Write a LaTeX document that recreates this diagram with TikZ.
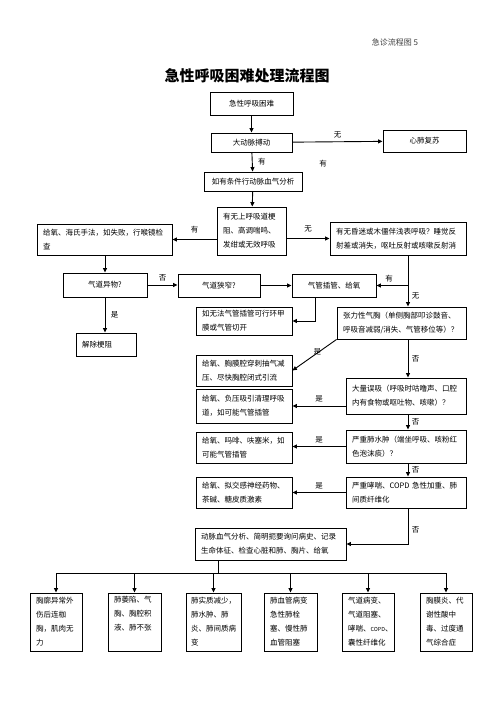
\documentclass[tikz,border=0pt]{standalone}
\usepackage{fontspec}
\setmainfont{Noto Sans CJK SC}
\usetikzlibrary{arrows.meta, calc}

\begin{document}
\begin{tikzpicture}[
  x=1pt, y=-1pt,
  font=\fontsize{7.5}{14}\selectfont,
  box/.style={draw, line width=0.9pt, inner xsep=6pt, inner ysep=2pt, align=left},
  cbox/.style={draw, line width=0.9pt, inner sep=0pt, align=center},
  lowbox/.style={draw, line width=0.9pt, inner xsep=6pt, inner ysep=2pt, align=left,
    text width=40pt, minimum height=58pt},
  arr/.style={-{Triangle[length=4.5pt, width=4pt]}, line width=0.9pt},
  lbl/.style={font=\fontsize{7.5}{9}\selectfont},
]
  \useasboundingbox (0,0) rectangle (496,702);

  \node[font=\fontsize{8}{10}\selectfont, text=black!75] (hdr) at (395,42) {急诊流程图 5};
  \node[font=\fontsize{15}{18}\selectfont\bfseries] (title) at (247,76) {急性呼吸困难处理流程图};

  \node[cbox, minimum width=83pt, minimum height=23pt] (start) at (251.5,103.5) {急性呼吸困难};
  \node[cbox, minimum width=81pt, minimum height=19pt] (pulse) at (251.5,142.5) {大动脉搏动};
  \node[cbox, minimum width=83pt, minimum height=22pt] (cpr) at (424.5,141) {心肺复苏};
  \node[cbox, minimum width=98pt, minimum height=19pt] (abg) at (253,181.5) {如有条件行动脉血气分析};
  \node[box, text width=57pt, minimum height=48pt] (upper) at (251.5,231)
    {有无上呼吸道梗\\阻、高调喘鸣、\\发绀或无效呼吸};
  \node[box, text width=123pt, minimum height=31pt] (heimlich) at (104.5,239.5)
    {给氧、海氏手法，如失败，行喉镜检\\查};
  \node[box, text width=124pt, minimum height=33pt] (coma) at (398,238.5)
    {有无昏迷或木僵伴浅表呼吸？睡觉反\\射差或消失，呕吐反射或咳嗽反射消};

  \node[cbox, minimum width=84pt, minimum height=24pt] (foreign) at (105,285) {气道异物?};
  \node[cbox, minimum width=82pt, minimum height=23pt] (narrow) at (219,285.5) {气道狭窄?};
  \node[cbox, minimum width=84pt, minimum height=23pt] (intub) at (334,285.5) {气管插管、给氧};
  \node[box, text width=48pt, minimum height=23pt] (relieve) at (106,344.5) {解除梗阻};

  \node[box, text width=84pt, minimum height=28pt] (crico) at (244,321)
    {如无法气管插管可行环甲\\膜或气管切开};
  \node[box, text width=117pt, minimum height=32pt] (tension) at (401.5,323)
    {张力性气胸（单侧胸部叩诊鼓音、\\呼吸音减弱/消失、气管移位等）？};
  \node[box, text width=84pt, minimum height=31pt] (decomp) at (244,370.5)
    {给氧、胸膜腔穿刺抽气减\\压、尽快胸腔闭式引流};
  \node[box, text width=108pt, minimum height=36pt] (aspir) at (406,396)
    {大量误吸（呼吸时咕噜声、口腔\\内有食物或呕吐物、咳嗽）？};
  \node[box, text width=84pt, minimum height=34pt] (suction) at (244,406)
    {给氧、负压吸引清理呼吸\\道，如可能气管插管};
  \node[box, text width=108pt, minimum height=33pt] (edema) at (406,446.5)
    {严重肺水肿（端坐呼吸、咳粉红\\色泡沫痰）？};
  \node[box, text width=84pt, minimum height=31pt] (morph) at (244,447.5)
    {给氧、吗啡、呋塞米，如\\可能气管插管};
  \node[box, text width=108pt, minimum height=31pt] (asthma) at (406,492.5)
    {严重哮喘、COPD 急性加重、肺\\间质纤维化};
  \node[box, text width=84pt, minimum height=31pt] (bronch) at (244,492.5)
    {给氧、拟交感神经药物、\\茶碱、糖皮质激素};
  \node[box, text width=139pt, minimum height=32pt] (workup) at (270.5,544)
    {动脉血气分析、简明扼要询问病史、记录\\生命体征、检查心脏和肺、胸片、给氧};

  \node[lowbox] (b1) at (56,622) {胸廓异常外\\伤后连枷\\胸，肌肉无\\力};
  \node[lowbox, text width=41pt] (b2) at (134.5,622) {肺萎陷、气\\胸、胸腔积\\液、肺不张\\\strut\hphantom{液}};
  \node[lowbox, text width=45pt, inner xsep=5pt] (b3) at (213.5,622) {肺实质减少，\\肺水肿、肺\\炎、肺间质病\\变};
  \node[lowbox, text width=41pt] (b4) at (290.5,622) {肺血管病变\\急性肺栓\\塞、慢性肺\\血管阻塞};
  \node[lowbox] (b5) at (368,622) {气道病变、\\气道阻塞、\\哮喘、{\fontsize{5.5}{14}\selectfont COPD}、\\囊性纤维化};
  \node[lowbox] (b6) at (446,622) {胸膜炎、代\\谢性酸中\\毒、过度通\\气综合症};

  \coordinate (spine) at (408,0);
  \coordinate (drop) at (218,573);

  \draw[arr] (start) -- (pulse);
  \draw[arr] (pulse) -- node[lbl, above] {无} (cpr);
  \draw[arr] (pulse) -- node[lbl, right, xshift=2pt] {有} (abg);
  \node[lbl] (stray) at (323,164) {有};
  \draw[arr] (abg) -- (upper);
  \draw[arr] (upper.west |- heimlich.east) -- node[lbl, above, yshift=3pt] {有} (heimlich.east);
  \draw[arr] (upper.east |- coma.west) -- node[lbl, above, yshift=3pt] {无} (coma.west);
  \draw[arr] (heimlich.south -| foreign.north) -- (foreign.north);
  \draw[arr] (foreign.east) -- node[lbl, above] {否} (foreign.east -| narrow.west);
  \draw[arr] (narrow.east) -- (narrow.east -| intub.west);
  \draw[arr] (foreign.south) -- node[lbl, right, xshift=2pt] {是} (foreign.south |- relieve.north);
  \draw[arr] (coma.south -| spine) |- node[lbl, above, pos=.8] {有} (intub.east);
  \draw[arr] (intub.east -| spine) -- node[lbl, right] {无} (tension.north -| spine);
  \draw[arr] ([xshift=-19pt]intub.south) |- (crico.east);
  \draw[arr] (tension.south west) -- node[lbl, above right, pos=.55, inner sep=1pt] {是} (decomp.east);
  \draw[arr] (tension.south -| spine) -- node[lbl, right] {否} (aspir.north -| spine);
  \draw[arr] (aspir.west |- suction.east) -- node[lbl, above] {是} (suction.east);
  \draw[arr] (aspir.south -| spine) -- node[lbl, right] {否} (edema.north -| spine);
  \draw[arr] (edema.west) -- node[lbl, above] {是} (edema.west -| morph.east);
  \draw[arr] (edema.south -| spine) -- node[lbl, right] {否} (asthma.north -| spine);
  \draw[arr] (asthma.west) -- node[lbl, above] {是} (asthma.west -| bronch.east);
  \draw[arr] (asthma.south -| spine) |- node[lbl, right, pos=.3] {否} (workup.east);

  \draw[line width=0.9pt] (workup.south -| drop) -- (drop);
  \draw[line width=0.9pt] (b1.north |- drop) -- (b6.north |- drop);
  \foreach \b in {b1,b2,b3,b4,b5,b6}
    \draw[arr] (\b.north |- drop) -- (\b.north);
\end{tikzpicture}
\end{document}
